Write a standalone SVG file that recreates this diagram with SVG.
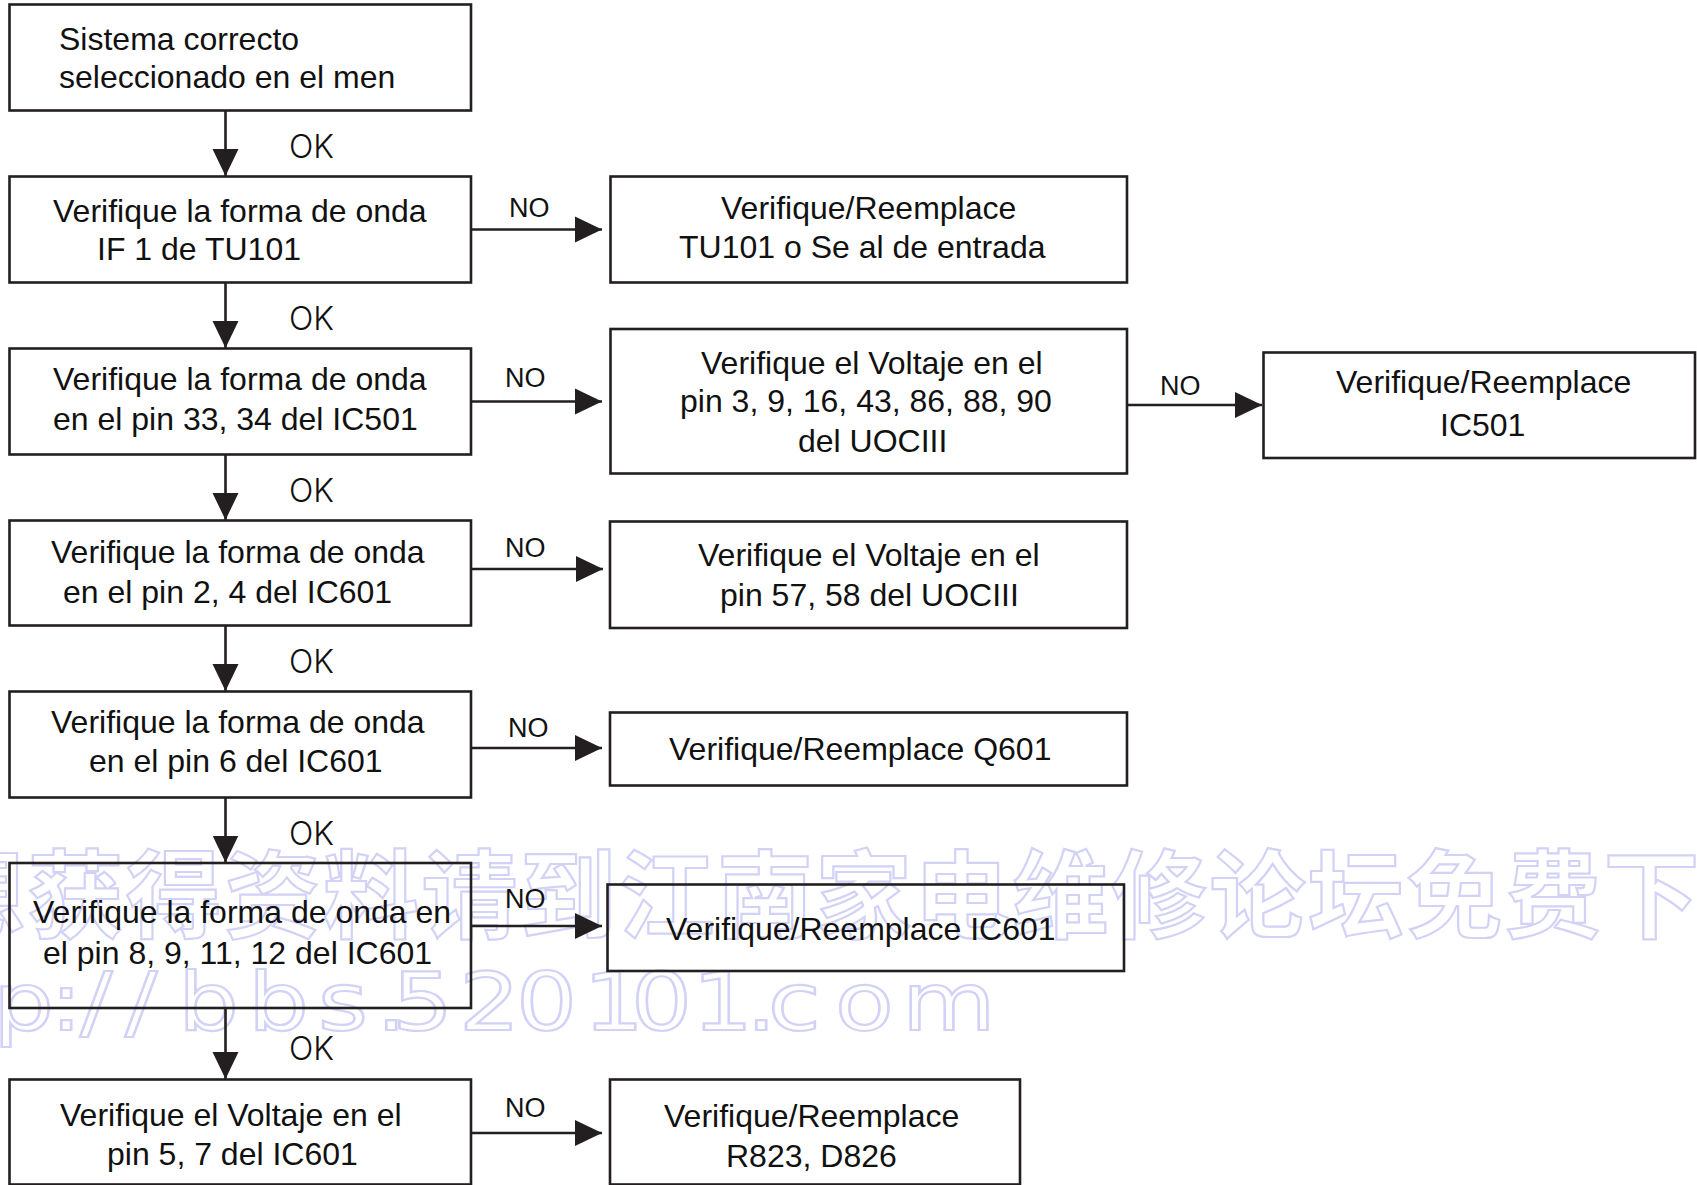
<svg xmlns="http://www.w3.org/2000/svg" width="1697" height="1185" viewBox="0 0 1697 1185">
  <style>
    .box { fill: none; stroke: #231f20; stroke-width: 2.6; }
    .t { font-family: "Liberation Sans", Arial, sans-serif; font-size: 32px; fill: #111111; }
    .no { font-family: "Liberation Sans", Arial, sans-serif; font-size: 27px; fill: #111111; }
    .ok { font-family: Inter, "Liberation Sans", sans-serif; font-weight: 300; font-size: 32px; fill: #111111; }
    .wire { fill: none; stroke: #231f20; stroke-width: 2.6; marker-end: url(#ah); }
    .wm { fill: none; stroke: #d2d2f6; stroke-width: 2.2; }
  </style>
  <defs>
    <marker id="ah" markerUnits="userSpaceOnUse" markerWidth="28" markerHeight="28" refX="27" refY="13" orient="auto" viewBox="0 0 28 26">
      <path d="M0,0 L27,13 L0,26 Z" fill="#231f20"/>
    </marker>
  </defs>
  <rect width="1697" height="1185" fill="#ffffff"/>

  <!-- watermark -->
  <g id="watermark">
    <text class="wm" x="-71" y="930" font-family="'Noto Sans CJK SC', sans-serif" font-weight="700" font-size="96" letter-spacing="2.5">想获得资料请到江南家电维修论坛免费下载</text>
    <text class="wm" transform="scale(1.2,1)" y="1030" font-family="'DejaVu Sans', sans-serif" font-size="80" x="-158 -108 -58 -5.8 41.7 66.7 104.2 148.3 206.7 265 313.3 326.7 382.5 430 485.8 525.8 576.7 621.7 640 695.8 751.7">http://bbs.520101.com</text>
  </g>

  <g id="connectors">
    <line class="wire" x1="225.5" y1="110.5" x2="225.5" y2="176"/>
    <line class="wire" x1="225.5" y1="282.5" x2="225.5" y2="348"/>
    <line class="wire" x1="225.5" y1="454.5" x2="225.5" y2="520"/>
    <line class="wire" x1="225.5" y1="625.5" x2="225.5" y2="691"/>
    <line class="wire" x1="225.5" y1="797.5" x2="225.5" y2="862.5"/>
    <line class="wire" x1="225.5" y1="1008" x2="225.5" y2="1079"/>
    <line class="wire" x1="471" y1="229.5" x2="602" y2="229.5"/>
    <line class="wire" x1="471" y1="401.5" x2="602" y2="401.5"/>
    <line class="wire" x1="1127" y1="405" x2="1262" y2="405"/>
    <line class="wire" x1="471" y1="569" x2="603" y2="569"/>
    <line class="wire" x1="471" y1="748" x2="602" y2="748"/>
    <line class="wire" x1="471" y1="926" x2="602" y2="926"/>
    <line class="wire" x1="471" y1="1133" x2="602" y2="1133"/>
    <text class="ok" x="289" y="158">OK</text>
    <text class="ok" x="289" y="330">OK</text>
    <text class="ok" x="289" y="502">OK</text>
    <text class="ok" x="289" y="673">OK</text>
    <text class="ok" x="289" y="845">OK</text>
    <text class="ok" x="289" y="1060">OK</text>
    <text class="no" x="509" y="217">NO</text>
    <text class="no" x="505" y="387">NO</text>
    <text class="no" x="1160" y="395">NO</text>
    <text class="no" x="505" y="557">NO</text>
    <text class="no" x="508" y="737">NO</text>
    <text class="no" x="505" y="908">NO</text>
    <text class="no" x="505" y="1117">NO</text>
  </g>

  <g id="n1">
    <rect class="box" x="9.5" y="4.5" width="461.5" height="106"/>
    <text class="t" x="59" y="50">Sistema correcto</text>
    <text class="t" x="59" y="88">seleccionado en el men</text>
  </g>
  <g id="n2">
    <rect class="box" x="9.5" y="176.5" width="461.5" height="106"/>
    <text class="t" x="53" y="222">Verifique la forma de onda</text>
    <text class="t" x="97" y="260">IF 1 de TU101</text>
  </g>
  <g id="n3">
    <rect class="box" x="9.5" y="348.5" width="461.5" height="106"/>
    <text class="t" x="53" y="390">Verifique la forma de onda</text>
    <text class="t" x="53" y="430">en el pin 33, 34 del IC501</text>
  </g>
  <g id="n4">
    <rect class="box" x="9.5" y="520.5" width="461.5" height="105"/>
    <text class="t" x="51" y="563">Verifique la forma de onda</text>
    <text class="t" x="63" y="603">en el pin 2, 4 del IC601</text>
  </g>
  <g id="n5">
    <rect class="box" x="9.5" y="691.5" width="461.5" height="106"/>
    <text class="t" x="51" y="733">Verifique la forma de onda</text>
    <text class="t" x="89" y="772">en el pin 6 del IC601</text>
  </g>
  <g id="n6">
    <rect class="box" x="9.5" y="863" width="461.5" height="145"/>
    <text class="t" x="33" y="923">Verifique la forma de onda en</text>
    <text class="t" x="43" y="964">el pin 8, 9, 11, 12 del IC601</text>
  </g>
  <g id="n7">
    <rect class="box" x="9.5" y="1079.5" width="461.5" height="105"/>
    <text class="t" x="60" y="1126">Verifique el Voltaje en el</text>
    <text class="t" x="107" y="1165">pin 5, 7 del IC601</text>
  </g>

  <g id="r2">
    <rect class="box" x="610.5" y="176.5" width="516.5" height="106"/>
    <text class="t" x="721" y="219">Verifique/Reemplace</text>
    <text class="t" x="679" y="258">TU101 o Se al de entrada</text>
  </g>
  <g id="r3">
    <rect class="box" x="610.5" y="329" width="516.5" height="144.5"/>
    <text class="t" x="701" y="374">Verifique el Voltaje en el</text>
    <text class="t" x="680" y="412">pin 3, 9, 16, 43, 86, 88, 90</text>
    <text class="t" x="798" y="452">del UOCIII</text>
  </g>
  <g id="r3b">
    <rect class="box" x="1263.5" y="352.5" width="431.5" height="105.5"/>
    <text class="t" x="1336" y="393">Verifique/Reemplace</text>
    <text class="t" x="1440" y="436">IC501</text>
  </g>
  <g id="r4">
    <rect class="box" x="610" y="521.5" width="517" height="106.5"/>
    <text class="t" x="698" y="566">Verifique el Voltaje en el</text>
    <text class="t" x="720" y="606">pin 57, 58 del UOCIII</text>
  </g>
  <g id="r5">
    <rect class="box" x="610" y="712.5" width="517" height="73"/>
    <text class="t" x="669" y="760">Verifique/Reemplace Q601</text>
  </g>
  <g id="r6">
    <rect class="box" x="607.5" y="884.5" width="516.5" height="86.5"/>
    <text class="t" x="666" y="940">Verifique/Reemplace IC601</text>
  </g>
  <g id="r7">
    <rect class="box" x="610" y="1079.5" width="410" height="105"/>
    <text class="t" x="664" y="1127">Verifique/Reemplace</text>
    <text class="t" x="726" y="1167">R823, D826</text>
  </g>
</svg>
